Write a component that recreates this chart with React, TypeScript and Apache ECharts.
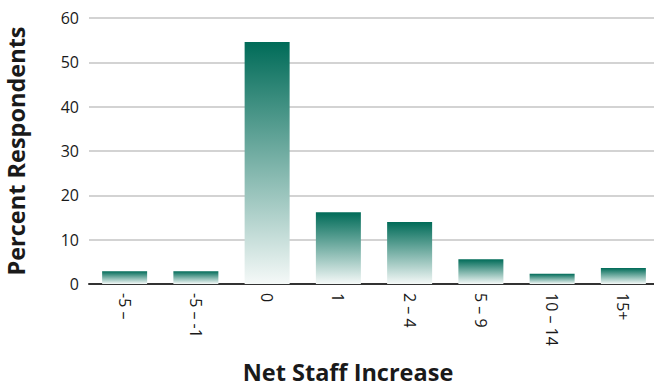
import React, { useEffect, useRef } from "react";
import * as echarts from "echarts";

const categories = ["-5 –", "-5 – -1", "0", "1", "2 – 4", "5 – 9", "10 – 14", "15+"];
const percentRespondents = [2.9, 2.9, 54.6, 16.2, 14.0, 5.6, 2.3, 3.6];
const yTicks = [0, 10, 20, 30, 40, 50, 60];

export default function App() {
  const ref = useRef<HTMLDivElement>(null);
  useEffect(() => {
    const chart = echarts.init(ref.current!, null, { renderer: "svg" });
    const font = "'Open Sans', 'Liberation Sans', sans-serif";
    chart.setOption({
      animation: false,
      backgroundColor: "#ffffff",
      grid: { left: 89, right: -5, top: 18, bottom: 103, containLabel: false, outerBoundsMode: "none" },
      xAxis: {
        type: "category",
        data: categories,
        axisLine: { show: true, lineStyle: { color: "#333333", width: 2 } },
        axisTick: { show: false },
        axisLabel: {
          rotate: -90,
          margin: 9,
          fontSize: 16,
          color: "#1a1a1a",
          fontFamily: font,
        },
        name: "Net Staff Increase",
        nameLocation: "middle",
        nameGap: 76,
        nameTextStyle: { fontSize: 23.5, fontWeight: "bold", color: "#1a1a1a", fontFamily: font, padding: [0, 0, 0, -52] },
      },
      yAxis: {
        type: "value",
        min: yTicks[0],
        max: yTicks[yTicks.length - 1],
        interval: 10,
        axisLine: { show: false },
        axisTick: { show: false },
        splitLine: { show: true, lineStyle: { color: "#c4c4c4", width: 1.5 } },
        axisLabel: { fontSize: 16, color: "#1a1a1a", fontFamily: font, margin: 10 },
        name: "Percent Respondents",
        nameLocation: "middle",
        nameGap: 61,
        nameTextStyle: { fontSize: 23.5, fontWeight: "bold", color: "#1a1a1a", fontFamily: font, lineHeight: 24 },
      },
      series: [
        {
          type: "bar",
          data: percentRespondents,
          barWidth: 45,
          itemStyle: {
            color: new echarts.graphic.LinearGradient(0, 0, 0, 1, [
              { offset: 0, color: "#006b58" },
              { offset: 1, color: "#f5f9f8" },
            ]),
          },
        },
      ],
    });
    return () => chart.dispose();
  }, []);
  return <div ref={ref} style={{ position: "absolute", left: 0, top: 0, width: 654, height: 387 }} />;
}
